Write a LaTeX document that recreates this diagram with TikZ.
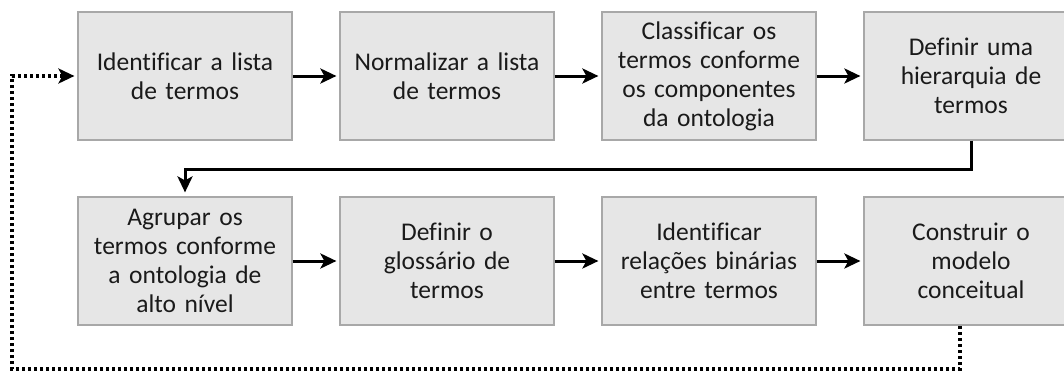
\documentclass[tikz,border=0pt]{standalone}
\usepackage{fontspec}
\setmainfont[Ligatures=NoCommon]{Carlito}
\usetikzlibrary{arrows.meta}
\definecolor{boxfill}{HTML}{E6E6E6}
\definecolor{boxline}{HTML}{A8A8A8}
\definecolor{txt}{HTML}{1A1A1A}
\tikzset{
  stepbox/.style={draw=boxline, line width=1.2pt, fill=boxfill, minimum width=214pt, minimum height=128pt,
    inner sep=0pt, text width=208pt, align=center, text=txt,
    font=\fontsize{25.5pt}{29pt}\selectfont},
  flow/.style={line width=3pt, -{Stealth[length=16pt,width=15pt,inset=4pt]}, shorten >=3pt},
  loop/.style={line width=3.2pt, dash pattern=on 3pt off 3pt, -{Stealth[length=16pt,width=15pt,inset=4pt]}, shorten >=3pt}
}
\begin{document}
\begin{tikzpicture}[x=1pt,y=-1pt]
\clip (0,0) rectangle (1064,372);
\fill[white] (0,0) rectangle (1064,372);
\node[stepbox] (b1) at (185,76) {Identificar a lista\\de termos};
\node[stepbox] (b2) at (447,76) {Normalizar a lista\\de termos};
\node[stepbox] (b3) at (709,76) {Classificar os\\termos conforme\\os componentes\\da ontologia};
\node[stepbox] (b4) at (971,76) {Definir uma\\hierarquia de\\termos};
\node[stepbox] (b5) at (185,261) {Agrupar os\\termos conforme\\a ontologia de\\alto nível};
\node[stepbox] (b6) at (447,261) {Definir o\\glossário de\\termos};
\node[stepbox] (b7) at (709,261) {Identificar\\relações binárias\\entre termos};
\node[stepbox] (b8) at (971,261) {Construir o\\modelo\\conceitual};
\draw[flow] (b1) -- (b2);
\draw[flow] (b2) -- (b3);
\draw[flow] (b3) -- (b4);
\coordinate (t1) at (971,169);
\draw[flow, shorten >=4pt] (b4.south) -- (t1) -| (b5.north);
\draw[flow] (b5) -- (b6);
\draw[flow] (b6) -- (b7);
\draw[flow] (b7) -- (b8);
\coordinate (d0) at (960,326);
\coordinate (d1) at (960,369);
\coordinate (d2) at (12,369);
\draw[loop] (d0) -- (d1) -- (d2) |- (b1.west);
\end{tikzpicture}
\end{document}
